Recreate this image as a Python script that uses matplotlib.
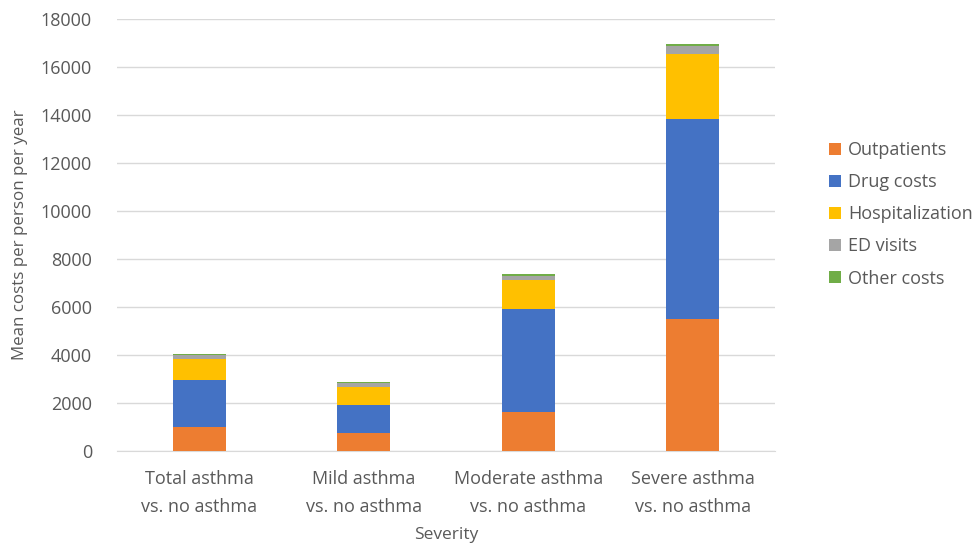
import matplotlib
matplotlib.use("Agg")
import matplotlib.pyplot as plt
import numpy as np

categories = ["Total asthma\nvs. no asthma", "Mild asthma\nvs. no asthma",
              "Moderate asthma\nvs. no asthma", "Severe asthma\nvs. no asthma"]
series_names = ["Outpatients", "Drug costs", "Hospitalization", "ED visits", "Other costs"]
outpatients = [1000, 760, 1610, 5500]
drug_costs = [1970, 1140, 4300, 8330]
hospitalization = [880, 770, 1210, 2710]
ed_visits = [150, 150, 180, 320]
other_costs = [50, 40, 60, 100]
yticks = [0, 2000, 4000, 6000, 8000, 10000, 12000, 14000, 16000, 18000]

colors = ["#ED7D31", "#4472C4", "#FFC000", "#A5A5A5", "#70AD47"]
text_color = "#595959"

plt.rcParams['font.family'] = ['Open Sans', 'DejaVu Sans']

fig = plt.figure(figsize=(9.76, 5.46), dpi=100)
ax = fig.add_axes([117/976, 95/546, 658/976, 432/546])

x = np.arange(len(categories))
bottom = np.zeros(len(categories))
handles = []
for name, vals, c in zip(series_names,
                         [outpatients, drug_costs, hospitalization, ed_visits, other_costs],
                         colors):
    h = ax.bar(x, vals, width=0.32, bottom=bottom, color=c, label=name, zorder=3)
    handles.append(h)
    bottom += np.array(vals)

ax.set_xlim(-0.5, 3.5)
ax.set_ylim(0, 18000)
ax.set_yticks(yticks)
ax.set_yticklabels([str(v) for v in yticks])
ax.set_xticks(x)
ax.set_xticklabels(categories, linespacing=1.7)
ax.yaxis.grid(True, color="#d9d9d9", linewidth=1, zorder=0)
ax.set_axisbelow(True)
for s in ["top", "right", "left"]:
    ax.spines[s].set_visible(False)
ax.spines["bottom"].set_color("#d9d9d9")
ax.tick_params(axis="both", length=0, labelsize=13, colors=text_color)
ax.tick_params(axis="y", pad=18)
ax.tick_params(axis="x", pad=14)
ax.set_xlabel("Severity", fontsize=12.5, color=text_color, labelpad=8)
ax.set_ylabel("Mean costs per person per year", fontsize=12.2, color=text_color, labelpad=9)

leg = fig.legend(handles=handles, labels=series_names, loc="upper left",
                 bbox_to_anchor=(822/976, 1 - 134/546), frameon=False,
                 fontsize=13, handlelength=0.65, handleheight=0.65,
                 handletextpad=0.4, labelspacing=0.78, borderaxespad=0)
for t in leg.get_texts():
    t.set_color(text_color)

fig.savefig("out.png", dpi=100)
